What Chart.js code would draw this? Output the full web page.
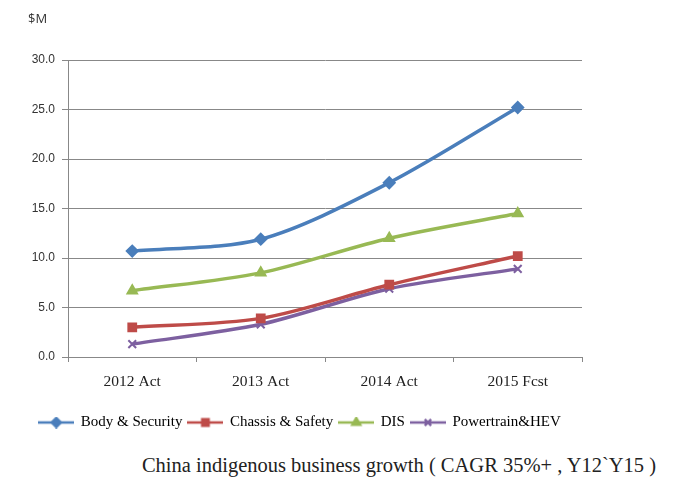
<!DOCTYPE html>
<html>
<head>
<meta charset="utf-8">
<script src="https://cdn.jsdelivr.net/npm/chart.js@4.4.1/dist/chart.umd.min.js"></script>
<style>
  html, body { margin: 0; padding: 0; background: #fff; }
  #wrap { position: relative; width: 674px; height: 482px; }
  #unit { position: absolute; left: 28px; top: 9px; font: 13px "Open Sans", Arial, sans-serif; color: #333; }
  #cv { position: absolute; left: 0; top: 0; }
  #caption { position: absolute; left: 99px; width: 600px; top: 454px; text-align: center;
    font: 20.5px "Liberation Serif", serif; color: #222; }
</style>
</head>
<body>
<div id="wrap">
  <canvas id="cv" width="674" height="445"></canvas>
  <div id="unit">$M</div>
  <div id="caption">China indigenous business growth ( CAGR 35%+ , Y12`Y15 )</div>
</div>
<script>
const categories = ["2012 Act", "2013 Act", "2014 Act", "2015 Fcst"];
const bodySecurity = [10.7, 11.9, 17.6, 25.2];
const chassisSafety = [3.0, 3.9, 7.3, 10.2];
const dis = [6.7, 8.5, 12.0, 14.5];
const powertrainHev = [1.3, 3.3, 6.9, 8.9];
const yTicks = [0, 5, 10, 15, 20, 25, 30];

const serif = "'Liberation Serif', 'DejaVu Serif', serif";

const series = [
  { label: "Body & Security", data: bodySecurity, color: "#4a7ebb", style: "rectRot" },
  { label: "Chassis & Safety", data: chassisSafety, color: "#be4b48", style: "rect" },
  { label: "DIS", data: dis, color: "#98b954", style: "triangle" },
  { label: "Powertrain&HEV", data: powertrainHev, color: "#7d60a0", style: "crossRot" }
];

// legend swatch: short line with marker in the middle, like Excel
function swatch(s) {
  const c = document.createElement("canvas");
  c.width = 36; c.height = 12;
  const ctx = c.getContext("2d");
  ctx.strokeStyle = s.color;
  ctx.fillStyle = s.color;
  ctx.lineWidth = 2.5;
  ctx.beginPath(); ctx.moveTo(0, 6); ctx.lineTo(36, 6); ctx.stroke();
  Chart.helpers.drawPoint(ctx, { pointStyle: s.style, radius: 4.5, borderWidth: 2 }, 18, 6);
  return c;
}

// the legend in the picture sits a bit to the right of the canvas centre
const legendShift = {
  id: "legendShift",
  beforeDraw(chart) {
    if (chart.legend) chart.legend.left = 18;
  }
};

new Chart(document.getElementById("cv"), {
  type: "line",
  plugins: [legendShift],
  data: {
    labels: categories,
    datasets: series.map((s) => ({
      label: s.label,
      data: s.data,
      borderColor: s.color,
      backgroundColor: s.color,
      borderWidth: 3.5,
      tension: 0.3,
      pointStyle: s.style,
      pointRadius: 5.5,
      pointBorderColor: s.color,
      pointBackgroundColor: s.color,
      pointBorderWidth: 2,
      swatch: swatch(s)
    }))
  },
  options: {
    responsive: false,
    animation: false,
    devicePixelRatio: 1,
    layout: { padding: { top: 60, right: 92, left: 0, bottom: 5 } },
    plugins: {
      tooltip: { enabled: false },
      title: { display: false },
      legend: {
        position: "bottom",
        align: "center",
        labels: {
          usePointStyle: true,
          pointStyleWidth: 34,
          padding: 6,
          color: "#222",
          font: { family: serif, size: 15 },
          generateLabels(chart) {
            return chart.data.datasets.map((d, i) => ({
              text: d.label,
              pointStyle: d.swatch,
              fillStyle: d.borderColor,
              strokeStyle: d.borderColor,
              lineWidth: 0,
              datasetIndex: i,
              hidden: false
            }));
          }
        }
      }
    },
    scales: {
      x: {
        offset: true,
        afterFit: (s) => { s.height = 52; },
        grid: { offset: true, drawOnChartArea: false, drawTicks: true, tickLength: 5, color: "#888" },
        border: { color: "#888", width: 1 },
        ticks: { color: "#222", font: { family: serif, size: 15.5 }, padding: 11 }
      },
      y: {
        min: 0,
        max: 30,
        afterFit: (s) => { s.width = 68; },
        afterBuildTicks: (s) => { s.ticks = yTicks.map((v) => ({ value: v })); },
        grid: { color: "#888", tickLength: 6, lineWidth: 1 },
        border: { color: "#888", width: 1 },
        ticks: {
          color: "#333",
          font: { family: "'Liberation Sans', Arial, sans-serif", size: 12 },
          padding: 7,
          callback: (v) => Number(v).toFixed(1)
        }
      }
    }
  }
});
</script>
</body>
</html>
